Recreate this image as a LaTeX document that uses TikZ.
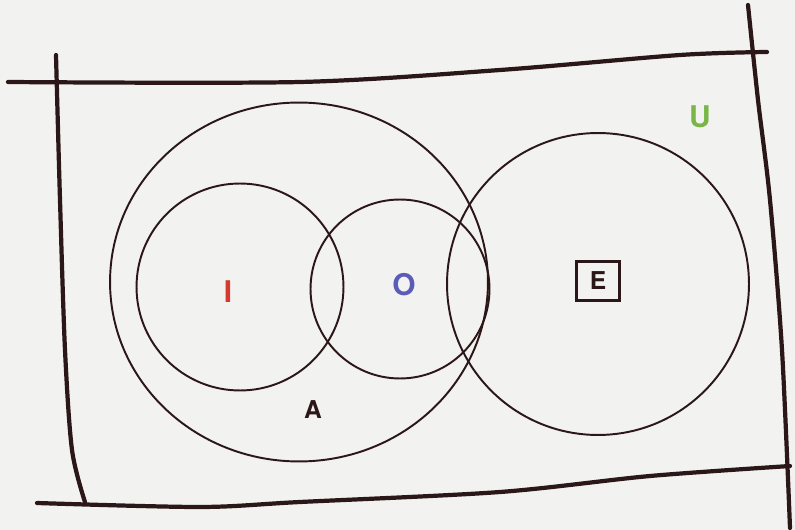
\documentclass[tikz,border=0pt]{standalone}
\usepackage{fontspec}
\setmainfont{TeX Gyre Heros}
\usepackage{tikz}
\usetikzlibrary{shapes.geometric}
\definecolor{ink}{HTML}{2B1718}
\definecolor{paper}{HTML}{F2F2F0}
\definecolor{ired}{HTML}{D43B2E}
\definecolor{oblue}{HTML}{5B5BB8}
\definecolor{ugreen}{HTML}{79B547}
\begin{document}
\begin{tikzpicture}[
  x=0.02cm, y=-0.02cm,
  set/.style={draw=ink, line width=1.1pt, inner sep=0pt},
  frame/.style={draw=ink, line width=2.4pt, line cap=round},
  lab/.style={font=\fontsize{17}{20}\selectfont\bfseries, inner sep=0pt},
  small/.style={font=\fontsize{14}{17}\selectfont\bfseries, text=ink, inner sep=0pt},
]
\fill[paper] (0,0) rectangle (795,530);
\useasboundingbox (0,0) rectangle (795,530);
% hand drawn frame
\draw[frame] plot[smooth] coordinates {(8,82) (300,82) (500,70) (680,55) (767,52)};
\draw[frame] plot[smooth] coordinates {(56,55) (60,200) (65,350) (72,450) (85,502)};
\draw[frame] plot[smooth] coordinates {(748,5) (758,100) (770,200) (782,350) (790,528)};
\draw[frame] plot[smooth] coordinates {(37,503) (200,507) (300,502) (500,492) (650,476) (790,466)};
% sets
\node[set, ellipse, minimum width=7.56cm, minimum height=7.18cm] (A) at (299,282) {};
\node[set, circle, minimum size=4.14cm] (I) at (240,287) {};
\node[set, circle, minimum size=3.58cm] (O) at (400,289) {};
\node[set, circle, minimum size=6.04cm] (E) at (598,284) {};
% labels
\node[lab, text=ired] (labI) at (228,292) {I};
\node[lab, text=oblue] (labO) at (404,285) {O};
\node[lab, text=ugreen] (labU) at (700,117) {U};
\node[small] (labA) at (313,410) {A};
\node[small, draw=ink, line width=1.5pt, minimum width=0.86cm, minimum height=0.78cm] (labE) at (598,281) {E};
\end{tikzpicture}
\end{document}
